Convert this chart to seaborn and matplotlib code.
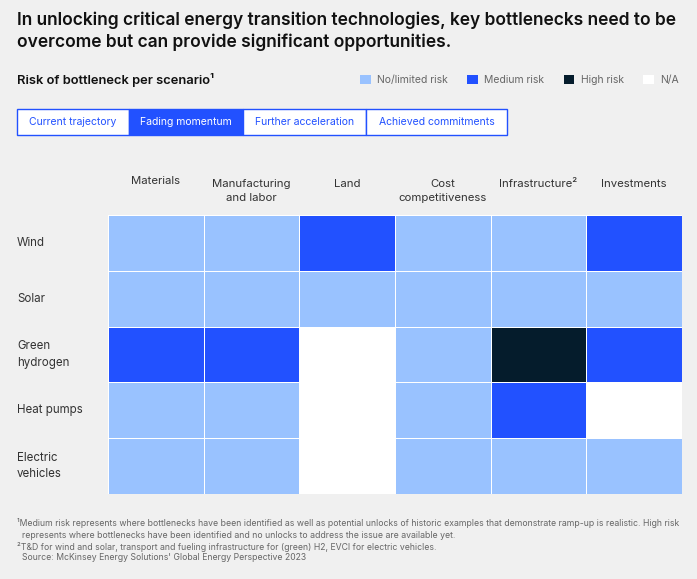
import numpy as np
import pandas as pd
import matplotlib.pyplot as plt
import seaborn as sns
from matplotlib.colors import ListedColormap
from matplotlib.patches import Patch, Rectangle

# Данные
technologies = ['Wind', 'Solar', 'Green\nhydrogen', 'Heat pumps', 'Electric\nvehicles']
bottlenecks = ['Materials', 'Manufacturing\nand labor', 'Land', 'Cost\ncompetitiveness',
               'Infrastructure²', 'Investments']
# 0 = N/A, 1 = No/limited risk, 2 = Medium risk, 3 = High risk
risk_wind = [1, 1, 2, 1, 1, 2]
risk_solar = [1, 1, 1, 1, 1, 1]
risk_hydrogen = [2, 2, 0, 1, 3, 2]
risk_heat = [1, 1, 0, 1, 2, 0]
risk_ev = [1, 1, 0, 1, 1, 1]
risk_labels = ['N/A', 'No/limited risk', 'Medium risk', 'High risk']
risk_colors = ['#ffffff', '#99c2ff', '#2251ff', '#051c2c']
scenarios = ['Current trajectory', 'Fading momentum', 'Further acceleration', 'Achieved commitments']
active_scenario = 'Fading momentum'

df = pd.DataFrame([risk_wind, risk_solar, risk_hydrogen, risk_heat, risk_ev],
                  index=technologies, columns=bottlenecks)

sns.set_theme(style='white')
plt.rcParams['font.family'] = ['Inter', 'DejaVu Sans']

bg = '#f0f0f0'
W, H = 697, 579
fig = plt.figure(figsize=(W / 100, H / 100), dpi=100, facecolor=bg)

# Заголовок
fig.text(17 / W, 1 - 20 / H, 'In unlocking critical energy transition technologies, key bottlenecks need to be',
         fontsize=12.5, fontweight='semibold', color='#111111', va='center')
fig.text(17 / W, 1 - 42 / H, 'overcome but can provide significant opportunities.',
         fontsize=12.5, fontweight='semibold', color='#111111', va='center')
fig.text(17 / W, 1 - 80 / H, 'Risk of bottleneck per scenario¹',
         fontsize=9.3, fontweight='semibold', color='#111111', va='center')

# Легенда
order = [1, 2, 3, 0]
handles = [Patch(facecolor=risk_colors[k], edgecolor='none', label=risk_labels[k]) for k in order]
leg = fig.legend(handles=handles, loc='center right', bbox_to_anchor=(688 / W, 1 - 80 / H),
                 ncol=4, frameon=False, fontsize=7.5, handlelength=1.0, handleheight=1.0,
                 handletextpad=0.6, columnspacing=1.9)
for t in leg.get_texts():
    t.set_color('#666666')

# Вкладки сценариев
tab_ax = fig.add_axes([17 / W, 1 - 135 / H, 490 / W, 26 / H])
tab_widths = [112, 114, 123, 141]
x0 = 0
for name, w in zip(scenarios, tab_widths):
    active = name == active_scenario
    tab_ax.add_patch(Rectangle((x0, 0), w, 26, facecolor='#2251ff' if active else 'white',
                               edgecolor='#2251ff', linewidth=1, clip_on=False))
    tab_ax.text(x0 + w / 2, 13, name, ha='center', va='center', fontsize=7.5,
                color='white' if active else '#2251ff')
    x0 += w
tab_ax.set_xlim(0, sum(tab_widths))
tab_ax.set_ylim(0, 26)
tab_ax.axis('off')

# Тепловая карта
ax = fig.add_axes([108 / W, 1 - 494 / H, 574 / W, 279 / H])
sns.heatmap(df, cmap=ListedColormap(risk_colors), vmin=-0.5, vmax=3.5, cbar=False,
            linewidths=0.5, linecolor='white', ax=ax)
ax.set_xticks([])
ax.set_yticks([])
ax.set_xlabel('')
ax.set_ylabel('')

for j, col in enumerate(bottlenecks):
    y = -0.43 if '\n' in col else -0.556
    if col == 'Materials':
        y = -0.61
    ax.text(j + 0.5, y, col, ha='center', va='center', fontsize=8.2, color='#333333',
            linespacing=1.45, clip_on=False)

for i, row in enumerate(technologies):
    ax.text(-91 / 95.7, i + 0.5, row, ha='left', va='center', fontsize=8.3, color='#333333',
            linespacing=1.45, clip_on=False)

# Примечания
notes = [
    (17, 523, '¹Medium risk represents where bottlenecks have been identified as well as potential unlocks of historic examples that demonstrate ramp-up is realistic. High risk'),
    (22, 535, 'represents where bottlenecks have been identified and no unlocks to address the issue are available yet.'),
    (17, 547, '²T&D for wind and solar, transport and fueling infrastructure for (green) H2, EVCI for electric vehicles.'),
    (22, 558, 'Source: McKinsey Energy Solutions\' Global Energy Perspective 2023'),
]
for x, y, txt in notes:
    fig.text(x / W, 1 - y / H, txt, fontsize=6.25, color='#666666', va='center')

fig.savefig('out.png', dpi=100, facecolor=bg)
